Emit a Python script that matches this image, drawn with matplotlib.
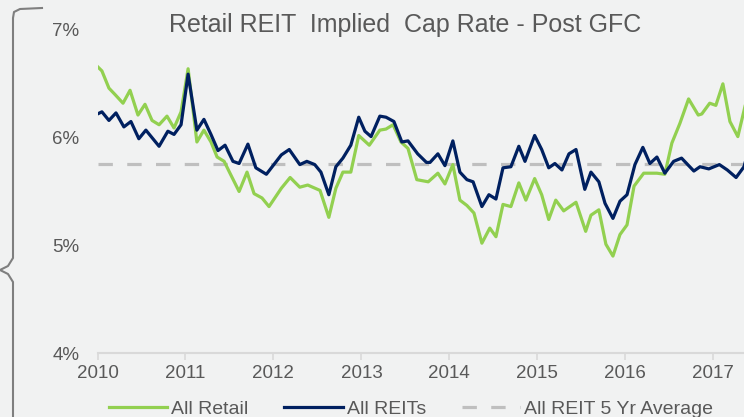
import numpy as np
import matplotlib.pyplot as plt
from matplotlib.lines import Line2D

plt.rcParams['font.family'] = ['Liberation Sans', 'DejaVu Sans']

# All Retail (decimal year, cap rate %)
retail_t = [2010.00, 2010.05, 2010.13, 2010.20, 2010.29, 2010.37, 2010.46, 2010.54, 2010.62,
            2010.70, 2010.79, 2010.87, 2010.95, 2011.03, 2011.08, 2011.13, 2011.21, 2011.29,
            2011.36, 2011.44, 2011.50, 2011.61, 2011.70, 2011.78, 2011.87, 2011.95, 2012.09,
            2012.19, 2012.30, 2012.39, 2012.53, 2012.63, 2012.71, 2012.79, 2012.88, 2012.97,
            2013.09, 2013.21, 2013.28, 2013.36, 2013.45, 2013.53, 2013.63, 2013.76, 2013.87,
            2013.95, 2014.04, 2014.12, 2014.20, 2014.28, 2014.37, 2014.46, 2014.53, 2014.61,
            2014.70, 2014.79, 2014.87, 2014.97, 2015.05, 2015.13, 2015.21, 2015.30, 2015.44,
            2015.55, 2015.61, 2015.70, 2015.78, 2015.86, 2015.94, 2016.02, 2016.10, 2016.21,
            2016.36, 2016.45, 2016.53, 2016.62, 2016.72, 2016.83, 2016.87, 2016.96, 2017.03,
            2017.11, 2017.19, 2017.28, 2017.37]
retail_v = [6.66, 6.62, 6.46, 6.40, 6.32, 6.44, 6.21, 6.31, 6.16,
            6.12, 6.20, 6.09, 6.24, 6.64, 6.30, 5.96, 6.07, 5.96,
            5.82, 5.78, 5.68, 5.50, 5.68, 5.48, 5.44, 5.36, 5.53,
            5.63, 5.54, 5.56, 5.51, 5.26, 5.53, 5.68, 5.68, 6.02,
            5.93, 6.07, 6.08, 6.12, 5.96, 5.90, 5.61, 5.59, 5.67,
            5.57, 5.75, 5.42, 5.37, 5.30, 5.02, 5.16, 5.08, 5.38,
            5.36, 5.58, 5.42, 5.62, 5.47, 5.24, 5.42, 5.32, 5.40,
            5.13, 5.28, 5.33, 5.01, 4.90, 5.10, 5.19, 5.55, 5.67,
            5.67, 5.66, 5.95, 6.13, 6.36, 6.21, 6.22, 6.32, 6.30,
            6.50, 6.15, 6.01, 6.32]

# All REITs
reits_t = [2010.00, 2010.05, 2010.13, 2010.21, 2010.30, 2010.38, 2010.47, 2010.55, 2010.70,
           2010.80, 2010.87, 2010.95, 2011.03, 2011.13, 2011.21, 2011.29, 2011.37, 2011.45,
           2011.54, 2011.61, 2011.71, 2011.80, 2011.92, 2012.09, 2012.18, 2012.30, 2012.38,
           2012.47, 2012.54, 2012.63, 2012.71, 2012.79, 2012.88, 2012.97, 2013.04, 2013.11,
           2013.21, 2013.28, 2013.37, 2013.46, 2013.53, 2013.64, 2013.74, 2013.78, 2013.87,
           2013.95, 2014.04, 2014.12, 2014.20, 2014.27, 2014.37, 2014.45, 2014.53, 2014.61,
           2014.70, 2014.79, 2014.86, 2014.97, 2015.05, 2015.13, 2015.20, 2015.28, 2015.36,
           2015.44, 2015.54, 2015.61, 2015.70, 2015.77, 2015.86, 2015.94, 2016.02, 2016.11,
           2016.20, 2016.28, 2016.36, 2016.45, 2016.55, 2016.64, 2016.78, 2016.85, 2016.95,
           2017.07, 2017.16, 2017.26, 2017.35, 2017.38]
reits_v = [6.22, 6.24, 6.16, 6.23, 6.10, 6.15, 5.99, 6.07, 5.92,
           6.06, 6.03, 6.12, 6.59, 6.07, 6.17, 6.03, 5.88, 5.93,
           5.78, 5.76, 5.94, 5.72, 5.66, 5.84, 5.89, 5.75, 5.78,
           5.75, 5.68, 5.47, 5.73, 5.81, 5.93, 6.19, 6.06, 6.01,
           6.20, 6.19, 6.15, 5.96, 5.97, 5.85, 5.77, 5.77, 5.85,
           5.74, 5.97, 5.68, 5.61, 5.59, 5.36, 5.47, 5.43, 5.72,
           5.73, 5.92, 5.78, 6.02, 5.89, 5.72, 5.76, 5.70, 5.85,
           5.89, 5.52, 5.68, 5.59, 5.39, 5.25, 5.41, 5.47, 5.75,
           5.91, 5.76, 5.82, 5.67, 5.78, 5.81, 5.69, 5.73, 5.71,
           5.75, 5.70, 5.63, 5.73, 5.82]

avg_5yr = 5.76
years = [2010, 2011, 2012, 2013, 2014, 2015, 2016, 2017]
yticks = [4, 5, 6, 7]

bg = '#f1f2f2'
txt = '#595959'

fig = plt.figure(figsize=(7.44, 4.17), dpi=100, facecolor=bg)
ax = fig.add_axes([97.5 / 744, 1 - 353 / 417, 1 - 97.5 / 744, (353 - 30) / 417])
ax.set_facecolor(bg)

ax.plot(retail_t, retail_v, color='#92d050', lw=2.3, solid_joinstyle='round', label='All Retail', zorder=3)
ax.plot(reits_t, reits_v, color='#002060', lw=2.3, solid_joinstyle='round', label='All REITs', zorder=4)
ax.plot([2010, 2017.5], [avg_5yr, avg_5yr], color='#bfbfbf', lw=2.3, dashes=(4.5, 4.5),
        label='All REIT 5 Yr Average', zorder=2)

ax.set_xlim(2010, 2017.35)
ax.set_ylim(4, 7)
ax.set_xticks(years)
ax.set_xticklabels([str(y) for y in years])
ax.set_yticks(yticks)
ax.set_yticklabels(['%d%%' % v for v in yticks])
for s in ['top', 'right', 'left']:
    ax.spines[s].set_visible(False)
ax.spines['bottom'].set_color('#d9d9d9')
ax.spines['bottom'].set_linewidth(1.5)
ax.tick_params(axis='x', colors='#d9d9d9', labelcolor=txt, labelsize=13.5, length=5, width=1.2, pad=4)
ax.tick_params(axis='y', length=0, labelcolor=txt, labelsize=13.5, pad=13)

fig.text(405.5 / 744, 1 - 32 / 417, 'Retail REIT  Implied  Cap Rate - Post GFC', ha='center', va='baseline',
         fontsize=18, color=txt)

leg = fig.legend(loc='center', bbox_to_anchor=(411 / 744, 1 - 409 / 417), ncol=3, frameon=False,
                 fontsize=14, handlelength=3.0, columnspacing=1.85, handletextpad=0.2, labelcolor=txt)

# curly brace at the left
bx = [42, 20, 14, 13, 13, 8, 0, 8, 13, 13]
by = [8, 9, 12, 18, 258, 266, 270, 274, 282, 417]
fig.add_artist(Line2D([x / 744 for x in bx], [1 - y / 417 for y in by], transform=fig.transFigure,
                      color='#7f7f7f', lw=1.5, solid_joinstyle='round'))

fig.savefig('out.png', dpi=100, facecolor=bg)
